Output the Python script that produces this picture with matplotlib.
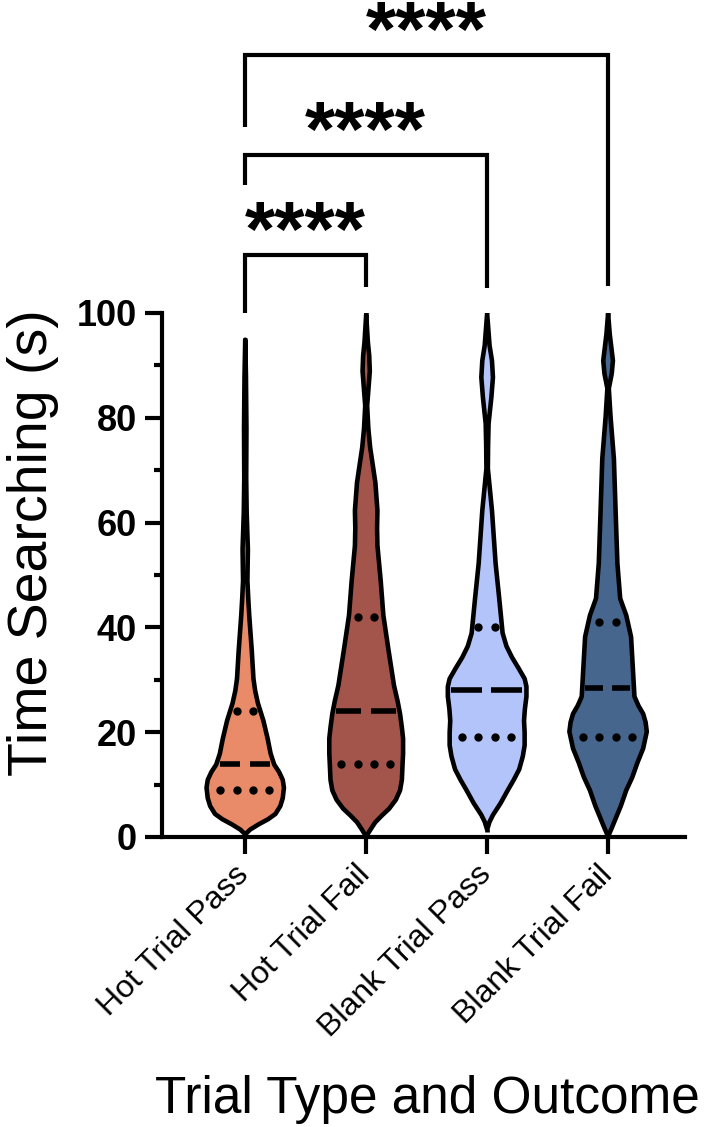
import numpy as np
import matplotlib.pyplot as plt

plt.rcParams['font.family'] = ['Liberation Sans', 'DejaVu Sans']

categories = ['Hot Trial Pass', 'Hot Trial Fail', 'Blank Trial Pass', 'Blank Trial Fail']
colors = ['#E98A68', '#A4554B', '#B3C4FA', '#46668E']

# violin outlines: value levels (s) and half widths (category units)
htp_y = [0.6, 1.5, 2.5, 3.5, 4.5, 6, 7.5, 9.5, 11, 12.5, 13.9, 16, 18.9, 22.3, 25.6, 28,
         30.3, 35.7, 42.4, 45.6, 49, 55, 62, 68.6, 78, 88, 95]
htp_w = [0, 0.04, 0.11, 0.19, 0.25, 0.29, 0.31, 0.32, 0.31, 0.28, 0.24, 0.21, 0.185, 0.15, 0.105, 0.082,
         0.068, 0.054, 0.033, 0.025, 0.018, 0.022, 0.012, 0.008, 0.01, 0.006, 0]
htf_y = [0.2, 1.5, 2.9, 4.2, 5.5, 7.2, 9, 11, 13.6, 16, 18.9, 21, 23.6, 26, 29, 35.7, 42.4, 49,
         55.7, 59, 62.4, 67.7, 71, 74.4, 78, 82.4, 86, 89, 92, 94.5, 99.8]
htf_w = [0, 0.035, 0.075, 0.13, 0.19, 0.245, 0.28, 0.295, 0.30, 0.305, 0.305, 0.295, 0.28, 0.26, 0.23,
         0.185, 0.142, 0.12, 0.093, 0.09, 0.093, 0.076, 0.055, 0.033, 0.018, 0.008, 0.02, 0.03, 0.025, 0.014, 0]
btp_y = [1.5, 3, 4.3, 6.5, 9, 11, 13, 15.5, 17.6, 20, 22.3, 24.5, 26.9, 28.8, 30.3, 32.3, 34.4, 36.5,
         39, 45.6, 52.3, 62.4, 70.4, 75, 79, 84, 87.8, 91, 93.9, 100]
btp_w = [0, 0.02, 0.048, 0.11, 0.17, 0.22, 0.265, 0.295, 0.31, 0.31, 0.305, 0.312, 0.325, 0.325, 0.31,
         0.26, 0.205, 0.16, 0.128, 0.10, 0.07, 0.04, 0.006, 0.008, 0.012, 0.035, 0.048, 0.04, 0.02, 0]
btf_y = [0.2, 1.8, 3.6, 6, 9, 11.5, 14.3, 17, 20.2, 22, 23.6, 25.2, 26.9, 32.2, 38.3, 42.4, 45.6,
         52.3, 62.4, 72.3, 80.4, 85.7, 88.5, 91, 96, 100]
btf_w = [0, 0.03, 0.062, 0.105, 0.15, 0.2, 0.243, 0.29, 0.32, 0.31, 0.29, 0.25, 0.218, 0.205, 0.19,
         0.15, 0.10, 0.077, 0.062, 0.048, 0.02, 0.006, 0.03, 0.04, 0.014, 0]

medians = [14, 24, 28, 28.5]
q1 = [9, 14, 19, 19]
q3 = [24, 42, 40, 41]

# significance brackets: group pairs, top of bracket, leg ends
pairs = [(0, 1), (0, 2), (0, 3)]
bracket_top = [111.1, 130.2, 149.2]
left_end = [100, 124.4, 135.5]
right_end = [105, 104.8, 105.2]
sig_labels = ['****', '****', '****']

fig = plt.figure(figsize=(7.12, 11.27), dpi=100)
ax = fig.add_axes([162/712, 1-837/1127, (685-162)/712, (837-313)/1127])

profiles = [(htp_y, htp_w), (htf_y, htf_w), (btp_y, btp_w), (btf_y, btf_w)]
for i, (vy, vw) in enumerate(profiles):
    vy = np.array(vy)
    vw = np.array(vw)
    ax.fill_betweenx(vy, i - vw, i + vw, facecolor=colors[i], edgecolor='black',
                     linewidth=3.3, joinstyle='round', zorder=2)
    ax.plot([i, i], [vy[0] - 0.6, vy[0]], color='black', lw=3.3, zorder=3, solid_capstyle='butt')
    ax.plot([i, i], [vy[-1], vy[-1] + 0.3], color='black', lw=3.3, zorder=3, solid_capstyle='butt')
    # median: two dashes with a gap in the middle
    h = np.interp(medians[i], vy, vw) - 0.03
    for side in (-1, 1):
        ax.plot([i + side * 0.04, i + side * h], [medians[i]] * 2, color='black', lw=4,
                solid_capstyle='butt', zorder=4)
    # quartiles
    for q in (q1[i], q3[i]):
        h = np.interp(q, vy, vw) - 0.05
        n = int(np.floor(2 * h / 0.135)) + 1
        xs = (np.arange(n) - (n - 1) / 2) * 0.135
        ax.plot(i + xs, [q] * len(xs), 'o', color='black', ms=5, zorder=4)

ax.set_xlim(-0.684, 3.64)
ax.set_ylim(0, 100)
ax.set_yticks(np.arange(0, 101, 20))
ax.set_yticks(np.arange(10, 100, 20), minor=True)
ax.set_xticks(range(4))
ax.set_xticklabels(categories, rotation=45, ha='right', va='center', rotation_mode='anchor', fontsize=23)
for lab in ax.get_yticklabels():
    lab.set_fontweight('bold')
ax.tick_params(axis='y', which='major', length=12, width=3, labelsize=26, pad=6)
ax.tick_params(axis='y', which='minor', length=6, width=3)
ax.tick_params(axis='x', length=12, width=3, pad=12)
for s in ['top', 'right']:
    ax.spines[s].set_visible(False)
for s in ['left', 'bottom']:
    ax.spines[s].set_linewidth(3)

for (a, b), top, le, re, lab in zip(pairs, bracket_top, left_end, right_end, sig_labels):
    ax.plot([a, a, b, b], [le, top, top, re], color='black', lw=3, clip_on=False,
            solid_joinstyle='miter', solid_capstyle='butt')
    ax.text((a + b) / 2, top - 0.2, lab, ha='center', va='baseline', fontsize=56,
            fontweight='bold', clip_on=False)

fig.text(427/712, 1-1113/1127, 'Trial Type and Outcome', ha='center', va='baseline', fontsize=37)
fig.text(33/712, 1-543/1127, 'Time Searching (s)', ha='center', va='center', rotation=90, fontsize=40)

fig.savefig('out.png', dpi=100)
